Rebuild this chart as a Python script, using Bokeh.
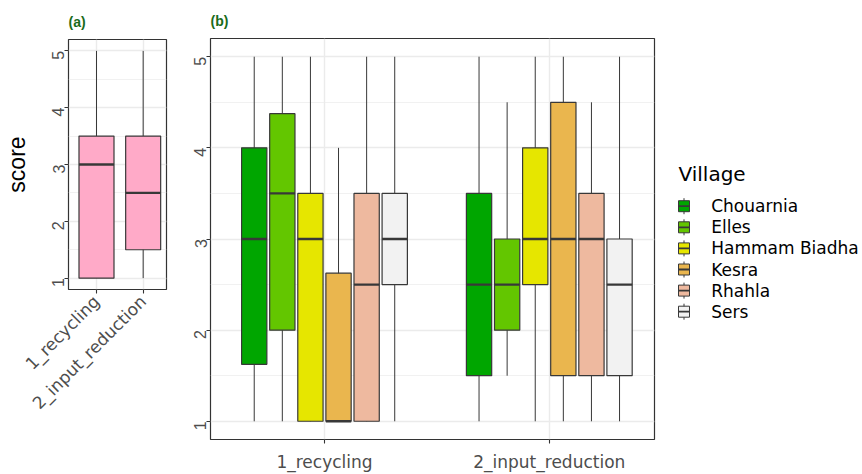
import math
from bokeh.plotting import figure
from bokeh.layouts import row
from bokeh.models import Range1d, FixedTicker, ColumnDataSource
from bokeh.core.properties import value
from bokeh.embed import file_html
from bokeh.resources import INLINE

# ---------------- data ----------------
practices = ["1_recycling", "2_input_reduction"]
practice_pos = [1, 2]
villages = ["Chouarnia", "Elles", "Hammam Biadha", "Kesra", "Rhahla", "Sers"]
village_colors = ["#00A600", "#63C600", "#E6E600", "#EAB64E", "#EEB99F", "#F2F2F2"]

# panel (a): all villages pooled, per practice
all_lower = [1.0, 1.0]
all_q1 = [1.0, 1.5]
all_median = [3.0, 2.5]
all_q3 = [3.5, 3.5]
all_upper = [5.0, 5.0]

# panel (b): per village, values for [1_recycling, 2_input_reduction]
v_lower = [[1.0, 1.0], [1.0, 1.5], [1.0, 1.0], [1.0, 1.0], [1.0, 1.0], [1.0, 1.0]]
v_q1 = [[1.625, 1.5], [2.0, 2.0], [1.0, 2.5], [1.0, 1.5], [1.0, 1.5], [2.5, 1.5]]
v_median = [[3.0, 2.5], [3.5, 2.5], [3.0, 3.0], [1.0, 3.0], [2.5, 3.0], [3.0, 2.5]]
v_q3 = [[4.0, 3.5], [4.375, 3.0], [3.5, 4.0], [2.625, 4.5], [3.5, 3.5], [3.5, 3.0]]
v_upper = [[5.0, 5.0], [5.0, 4.5], [5.0, 5.0], [4.0, 5.0], [5.0, 4.5], [5.0, 5.0]]

y_ticks = [1, 2, 3, 4, 5]
y_minor = [1.5, 2.5, 3.5, 4.5]

# ---------------- style ----------------
LINE = "#383838"
TICK_TXT = "#4D4D4D"
GRID = "#EBEBEB"
TITLE_GREEN = "#1A6B1A"
HFONT = "DejaVu Sans"
VFONT = "Liberation Sans"


def style_panel(p, show_ylabel):
    p.outline_line_color = "#333333"
    p.outline_line_width = 1.2
    p.background_fill_color = "white"
    p.border_fill_color = "white"
    p.xaxis.ticker = FixedTicker(ticks=practice_pos)
    p.xaxis.major_label_overrides = {pos: lab for pos, lab in zip(practice_pos, practices)}
    p.yaxis.ticker = FixedTicker(ticks=y_ticks, minor_ticks=y_minor)
    for ax in (p.xaxis[0], p.yaxis[0]):
        ax.axis_line_color = None
        ax.major_tick_line_color = "#333333"
        ax.major_tick_line_width = 1.1
        ax.major_tick_in = 0
        ax.major_tick_out = 4
        ax.minor_tick_line_color = None
        ax.major_label_text_color = TICK_TXT
    p.yaxis.major_label_orientation = math.pi / 2
    p.yaxis.major_label_text_font = VFONT
    p.yaxis.major_label_text_font_size = "16px"
    p.yaxis.major_label_standoff = 6
    p.xaxis.major_label_text_font = HFONT
    p.xaxis.major_label_text_font_size = "17px"
    p.xaxis.major_label_standoff = 8
    p.xgrid.grid_line_color = GRID
    p.xgrid.grid_line_width = 1.4
    p.ygrid.grid_line_color = GRID
    p.ygrid.grid_line_width = 1.4
    p.ygrid.minor_grid_line_color = GRID
    p.ygrid.minor_grid_line_width = 0.7
    p.title.text_font = VFONT
    p.title.text_font_size = "14px"
    p.title.text_font_style = "bold"
    p.title.text_color = TITLE_GREEN
    p.title.align = "left"
    p.title.standoff = 20
    if show_ylabel:
        p.yaxis.axis_label = "score"
        p.yaxis.axis_label_text_font = VFONT
        p.yaxis.axis_label_text_font_size = "23px"
        p.yaxis.axis_label_text_font_style = "normal"
        p.yaxis.axis_label_text_color = "black"
        p.yaxis.axis_label_standoff = 14


def draw_boxes(p, xs, width, lo, q1, med, q3, up, color):
    src = ColumnDataSource(dict(
        x=xs, lo=lo, q1=q1, med=med, q3=q3, up=up,
        xl=[x - width / 2 for x in xs], xr=[x + width / 2 for x in xs],
    ))
    p.segment(x0="x", y0="lo", x1="x", y1="up", source=src, line_color=LINE, line_width=1.0)
    p.vbar(x="x", width=width, bottom="q1", top="q3", source=src,
           fill_color=color, line_color=LINE, line_width=1.2)
    p.segment(x0="xl", y0="med", x1="xr", y1="med", source=src, line_color=LINE, line_width=2.3)


# ---------------- panel (a) ----------------
pa = figure(width=172, height=474, x_range=Range1d(0.4, 2.5), y_range=Range1d(0.8, 5.2),
            output_backend="svg", toolbar_location=None, title="(a)", frame_align=False,
            min_border_left=67, min_border_right=6, min_border_top=39, min_border_bottom=185)
style_panel(pa, True)
pa.xaxis.major_label_orientation = math.pi / 4
pa.xaxis.major_label_standoff = 5
draw_boxes(pa, practice_pos, 0.75, all_lower, all_q1, all_median, all_q3, all_upper, "#FFAAC8")

# ---------------- panel (b) ----------------
pb = figure(width=488, height=474, x_range=Range1d(0.493, 2.468), y_range=Range1d(0.8, 5.2),
            output_backend="svg", toolbar_location=None, title="(b)", frame_align=False,
            min_border_left=38, min_border_right=6, min_border_top=38, min_border_bottom=31)
style_panel(pb, False)
dodge = 0.75 / len(villages)
for i, vname in enumerate(villages):
    off = (i - (len(villages) - 1) / 2) * dodge
    xs = [pos + off for pos in practice_pos]
    draw_boxes(pb, xs, dodge * 0.9, v_lower[i], v_q1[i], v_median[i], v_q3[i], v_upper[i],
               village_colors[i])

# ---------------- legend ----------------
LW, LH = 202, 474
pl = figure(width=LW, height=LH, x_range=Range1d(0, LW), y_range=Range1d(LH, 0),
            x_axis_type=None, y_axis_type=None, output_backend="svg", toolbar_location=None,
            frame_align=False,
            min_border_left=0, min_border_right=0, min_border_top=0, min_border_bottom=0)
pl.outline_line_color = None
pl.grid.visible = False

key_x = 23.5
row0 = 205.7
row_step = 21.1
key_ys = [row0 + i * row_step for i in range(len(villages))]
pl.segment(x0=[key_x] * len(villages), y0=[y - 8 for y in key_ys],
           x1=[key_x] * len(villages), y1=[y + 8 for y in key_ys],
           line_color=LINE, line_width=1.0)
pl.rect(x=[key_x] * len(villages), y=key_ys, width=11, height=11,
        fill_color=village_colors, line_color=LINE, line_width=1.0)
pl.segment(x0=[key_x - 5.5] * len(villages), y0=key_ys, x1=[key_x + 5.5] * len(villages), y1=key_ys,
           line_color=LINE, line_width=1.8)
pl.text(x=[50.7] * len(villages), y=key_ys, text=villages, text_font=value(HFONT),
        text_font_size="17px", text_baseline="middle", text_align="left", text_color="black")
pl.text(x=[18], y=[173], text=["Village"], text_font=value(HFONT), text_font_size="20px",
        text_baseline="middle", text_align="left", text_color="black")

layout = row(pa, pb, pl)
open("out.html", "w").write(file_html(layout, INLINE))
